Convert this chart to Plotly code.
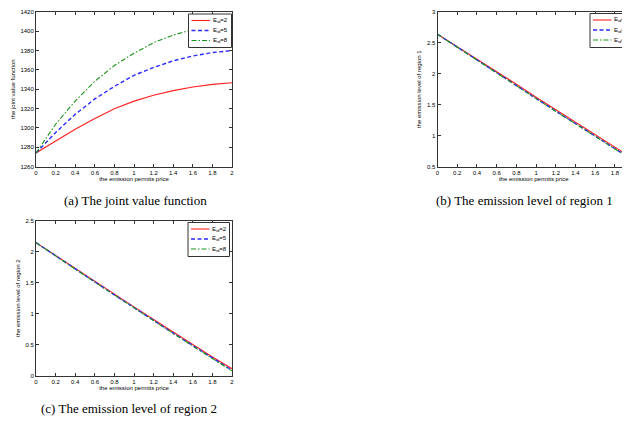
import plotly.graph_objects as go

# ---------------- data ----------------
price = [0.0, 0.2, 0.4, 0.6, 0.8, 1.0, 1.2, 1.4, 1.6, 1.8, 2.0]

series_names = ["E<sub>id</sub>=2", "E<sub>id</sub>=5", "E<sub>id</sub>=8"]

# (a) joint value function
joint_e2 = [1274.0, 1286.7, 1298.6, 1309.6, 1319.8, 1327.7, 1333.8, 1338.6, 1342.4, 1345.1, 1346.8]
joint_e5 = [1274.0, 1295.2, 1314.0, 1330.0, 1343.0, 1354.4, 1362.6, 1369.4, 1374.5, 1378.0, 1380.0]
joint_e8 = [1274.0, 1303.8, 1327.7, 1348.2, 1364.6, 1377.3, 1388.2, 1396.0, 1402.0, 1405.3, 1406.3]

# (b) emission level of region 1
region1_e2 = [2.64, 2.44, 2.235, 2.03, 1.83, 1.62, 1.42, 1.22, 1.02, 0.815, 0.61]
region1_e5 = [2.64, 2.435, 2.225, 2.02, 1.81, 1.60, 1.395, 1.19, 0.99, 0.785, 0.585]
region1_e8 = [2.64, 2.43, 2.22, 2.01, 1.80, 1.595, 1.39, 1.19, 0.985, 0.785, 0.58]

# (c) emission level of region 2
region2_e2 = [2.15, 1.94, 1.735, 1.525, 1.32, 1.11, 0.905, 0.70, 0.50, 0.30, 0.11]
region2_e5 = [2.15, 1.935, 1.725, 1.515, 1.305, 1.095, 0.89, 0.685, 0.485, 0.285, 0.085]
region2_e8 = [2.15, 1.93, 1.72, 1.51, 1.30, 1.09, 0.885, 0.68, 0.475, 0.275, 0.075]

x_ticks = [0, 0.2, 0.4, 0.6, 0.8, 1, 1.2, 1.4, 1.6, 1.8, 2]
x_ticks_b = [0, 0.2, 0.4, 0.6, 0.8, 1, 1.2, 1.4, 1.6, 1.8]
joint_ticks = [1260, 1280, 1300, 1320, 1340, 1360, 1380, 1400, 1420]
region1_ticks = [0.5, 1, 1.5, 2, 2.5, 3]
region2_ticks = [0, 0.5, 1, 1.5, 2, 2.5]

x_title = "the emission permits price"
y_titles = ["the joint value function", "the emission level of region 1", "the emission level of region 2"]
captions = ["(a) The joint value function", "(b) The emission level of region 1", "(c) The emission level of region 2"]

# ---------------- styling ----------------
# the page body has an 8px margin, so the figure starts at (8, 8) of the window
OFF = 8
W, H = 622, 413
def px(x):
    return (x - OFF) / W
def py(y):
    return 1 - (y - OFF) / H

colors = ["#ff2020", "#2a2aff", "#1a931a"]
dashes = ["solid", "4px,2.5px", "5px,2px,1.5px,2px"]
widths = [1.1, 1.4, 1.1]

fig = go.Figure()

panels = [
    dict(xa="x", ya="y", ys=[joint_e2, joint_e5, joint_e8]),
    dict(xa="x2", ya="y2", ys=[region1_e2, region1_e5, region1_e8]),
    dict(xa="x3", ya="y3", ys=[region2_e2, region2_e5, region2_e8]),
]
for p in panels:
    for i, ys in enumerate(p["ys"]):
        fig.add_trace(go.Scatter(x=price, y=ys, mode="lines", xaxis=p["xa"], yaxis=p["ya"],
                                 line=dict(color=colors[i], dash=dashes[i], width=widths[i]),
                                 showlegend=False, hoverinfo="skip"))

tickfont = dict(family="Liberation Sans, Arial", size=6, color="#000")
titlefont = dict(family="Liberation Sans, Arial", size=6, color="#000")
axcommon = dict(showline=True, linecolor="#333", linewidth=1, ticks="inside", ticklen=3,
                tickcolor="#333", tickwidth=1, showgrid=False, zeroline=False,
                tickfont=tickfont, fixedrange=True)

# geometry (window pixels)
a_dom_x = [px(36), px(232)]
a_dom_y = [py(166.5), py(12)]
b_dom_x = [px(437.5), 1.0]
b_dom_y = [py(166.5), py(12)]
c_dom_x = [px(36), px(232)]
c_dom_y = [py(375.5), py(221)]
b_xmax = (630 - 437.5) / 98.6

fig.update_layout(
    width=W, height=H, margin=dict(l=0, r=0, t=0, b=0, autoexpand=False),
    paper_bgcolor="white", plot_bgcolor="white", showlegend=False,
    xaxis=dict(domain=a_dom_x, anchor="y", range=[0, 2], tickvals=x_ticks, mirror="ticks",
               title=dict(text=x_title, font=titlefont, standoff=2), **axcommon),
    yaxis=dict(domain=a_dom_y, anchor="x", range=[1260, 1420], tickvals=joint_ticks, mirror="ticks",
               title=dict(text=y_titles[0], font=titlefont, standoff=4), **axcommon),
    xaxis2=dict(domain=b_dom_x, anchor="y2", range=[0, b_xmax], tickvals=x_ticks_b, mirror="ticks",
                title=dict(text=x_title, font=titlefont, standoff=2), **axcommon),
    yaxis2=dict(domain=b_dom_y, anchor="x2", range=[0.5, 3], tickvals=region1_ticks, mirror=False,
                title=dict(text=y_titles[1], font=titlefont, standoff=4), **axcommon),
    xaxis3=dict(domain=c_dom_x, anchor="y3", range=[0, 2], tickvals=x_ticks, mirror="ticks",
                title=dict(text=x_title, font=titlefont, standoff=2), **axcommon),
    yaxis3=dict(domain=c_dom_y, anchor="x3", range=[0, 2.5], tickvals=region2_ticks, mirror="ticks",
                title=dict(text=y_titles[2], font=titlefont, standoff=4), **axcommon),
)

# manual legends (small MATLAB-style boxes)
shapes = []
annotations = []
legend_boxes = [
    (188.5, 14, 231.5, 47.5),
    (590, 13.5, 640, 47.5),
    (188, 222.5, 229.5, 256.5),
]
for (x0, y0, x1, y1) in legend_boxes:
    shapes.append(dict(type="rect", xref="paper", yref="paper", x0=px(x0), x1=px(x1),
                       y0=py(y1), y1=py(y0), fillcolor="white",
                       line=dict(color="#333", width=1), layer="above"))
    for i in range(3):
        yy = y0 + 6.5 + i * 10
        shapes.append(dict(type="line", xref="paper", yref="paper", x0=px(x0 + 3), x1=px(x0 + 21.5),
                           y0=py(yy), y1=py(yy), layer="above",
                           line=dict(color=colors[i], width=widths[i], dash=dashes[i])))
        annotations.append(dict(x=px(x0 + 22), y=py(yy), xref="paper", yref="paper",
                                text=series_names[i], showarrow=False, xanchor="left", yanchor="middle",
                                font=dict(family="Liberation Sans, Arial", size=6, color="#000")))

cap_font = dict(family="Liberation Serif, DejaVu Serif", size=13, color="#000")
for (cx, cy, txt) in [(135, 200, captions[0]), (524, 200, captions[1]), (129, 408, captions[2])]:
    annotations.append(dict(x=px(cx), y=py(cy), xref="paper", yref="paper", text=txt,
                            showarrow=False, xanchor="center", yanchor="middle", font=cap_font))

fig.update_layout(shapes=shapes, annotations=annotations)
fig.write_html("out.html")
